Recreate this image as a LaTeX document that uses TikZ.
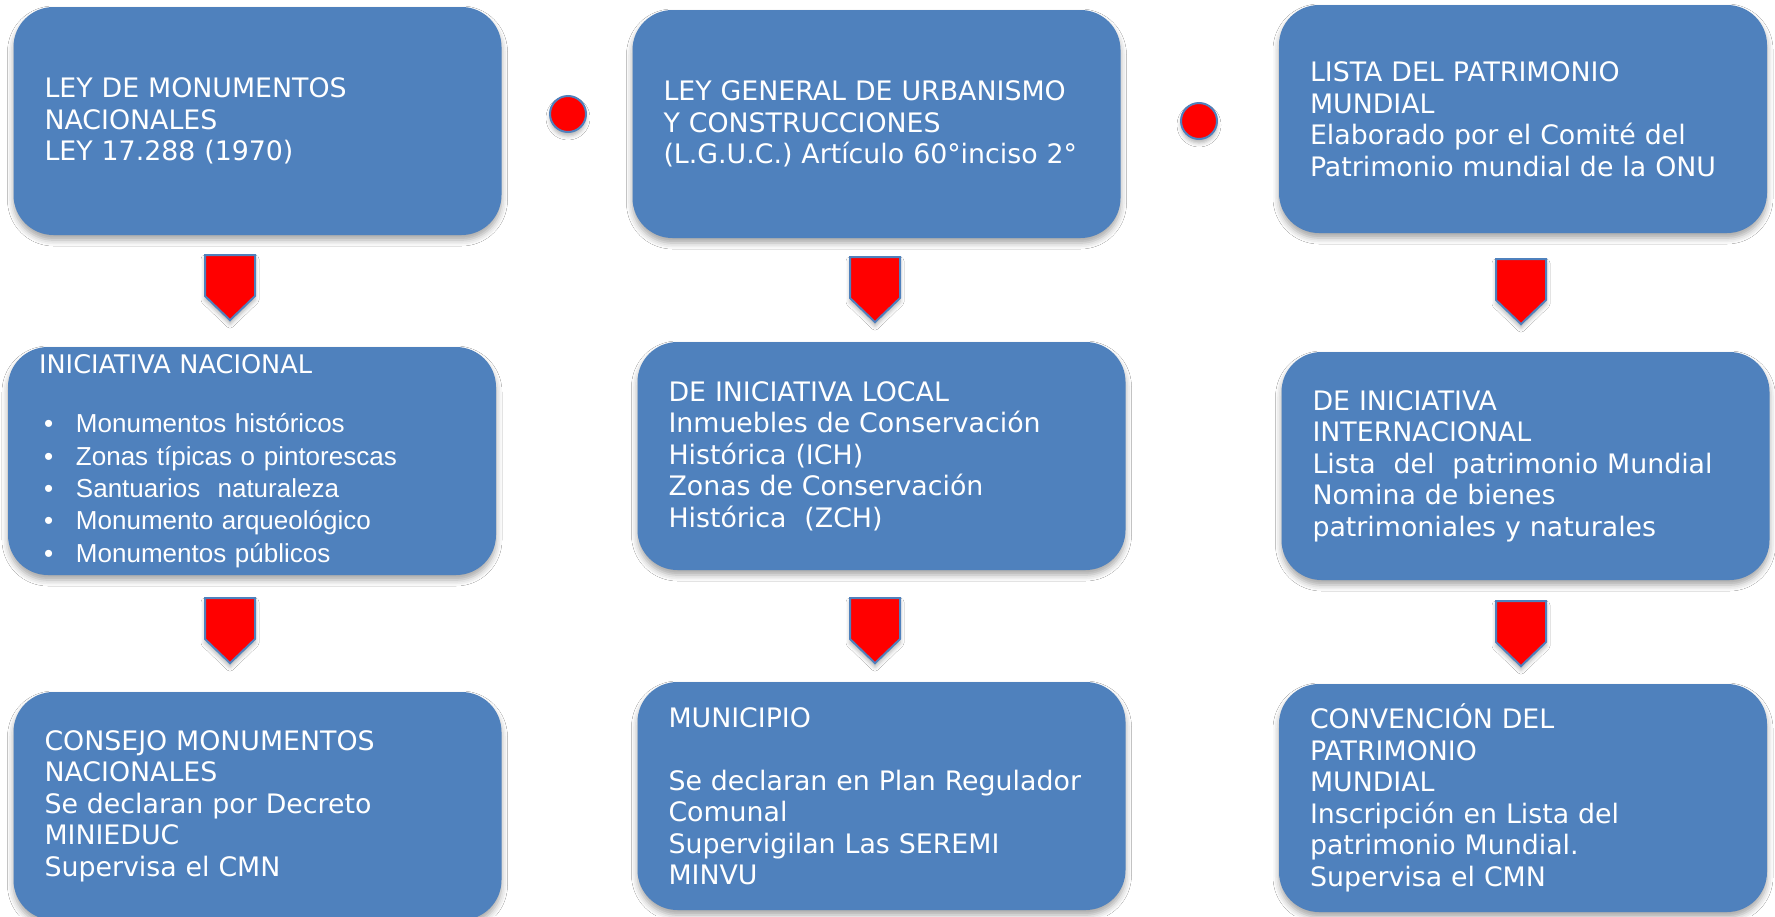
\documentclass[tikz,border=0pt]{standalone}
\usepackage{fontspec}
\setmainfont{DejaVu Sans}
\newfontfamily\bulletfont{Liberation Sans}
\usepackage{tikz}
\usetikzlibrary{shapes.symbols,shadows.blur,positioning}
\definecolor{boxblue}{HTML}{4F81BD}
\definecolor{markred}{HTML}{FF0000}
\tikzset{law box/.style={rectangle,rounded corners=40pt,fill=boxblue,draw=none,text=white,
            text width=426pt,inner xsep=31pt,inner ysep=0pt,minimum height=228pt,align=left,
            font=\fontsize{26.8}{31.5}\selectfont,
            blur shadow={shadow xshift=0pt,shadow yshift=-5pt,shadow blur radius=6pt,shadow opacity=35}},
         red dot/.style={circle,fill=markred,draw=boxblue,line width=2pt,minimum size=36pt,inner sep=0pt,
            blur shadow={shadow xshift=0pt,shadow yshift=-4pt,shadow blur radius=4pt,shadow opacity=30}},
         down arrow/.style={signal,signal to=south,signal from=nowhere,signal pointer angle=92,
            fill=markred,draw=boxblue,line width=2pt,minimum width=50pt,minimum height=41pt,inner sep=0pt,anchor=north,
            blur shadow={shadow xshift=0pt,shadow yshift=-4pt,shadow blur radius=4pt,shadow opacity=30}}
}
\newcommand{\bitem}[1]{\makebox[37pt][l]{\hspace{5pt}\textbullet}#1}

\begin{document}
\begin{tikzpicture}[x=1pt,y=-1pt]
\path[use as bounding box,fill=white] (0,0) rectangle (1775,916);
\node[law box] (ley mon) at (257.5,121) {LEY DE MONUMENTOS\\NACIONALES\\LEY 17.288 (1970)};
\node[law box] (ley urb) at (876.5,124) {LEY GENERAL DE URBANISMO\\Y CONSTRUCCIONES\\(L.G.U.C.) Artículo 60°inciso 2°};
\node[law box] (lista) at (1523,119) {LISTA DEL PATRIMONIO\\MUNDIAL\\Elaborado por el Comité del\\Patrimonio mundial de la ONU};
\node[red dot] (dot a) at (568,114) {};
\node[red dot] (dot b) at (1199,121) {};
\node[down arrow] (arr mon) at (230,254) {};
\node[down arrow] (arr urb) at (875,256) {};
\node[down arrow] (arr lista) at (1521,258) {};
\node[law box,font=\fontsize{26}{32.3}\selectfont] (nacional) at (252,461) {{\fontsize{25.6}{32.3}\selectfont INICIATIVA NACIONAL}\\[27pt]
    \bulletfont\bitem{Monumentos históricos}\\\bitem{Zonas típicas o pintorescas}\\\bitem{Santuarios\ \ naturaleza}\\
    \bitem{Monumento arqueológico}\\\bitem{Monumentos públicos}};
\node[law box] (local) at (881.5,456) {DE INICIATIVA LOCAL\\Inmuebles de Conservación\\Histórica (ICH)\\Zonas de Conservación\\Histórica\ \ (ZCH)};
\node[law box] (internacional) at (1525.5,466) {DE INICIATIVA\\INTERNACIONAL\\Lista\ \ del\ \ patrimonio Mundial\\Nomina de bienes\\patrimoniales y naturales};
\node[down arrow] (arr nac) at (230,597) {};
\node[down arrow] (arr loc) at (875,597) {};
\node[down arrow] (arr int) at (1521,600) {};
\node[law box] (consejo) at (257.5,806) {CONSEJO MONUMENTOS\\NACIONALES\\Se declaran por Decreto\\MINIEDUC\\Supervisa el CMN};
\node[law box] (municipio) at (881.5,796) {MUNICIPIO\\[31.5pt]Se declaran en Plan Regulador\\Comunal\\Supervigilan Las SEREMI\\MINVU};
\node[law box] (convencion) at (1523,798) {CONVENCIÓN DEL\\PATRIMONIO\\MUNDIAL\\Inscripción en Lista del\\patrimonio Mundial.\\Supervisa el CMN};
\end{tikzpicture}
\end{document}
